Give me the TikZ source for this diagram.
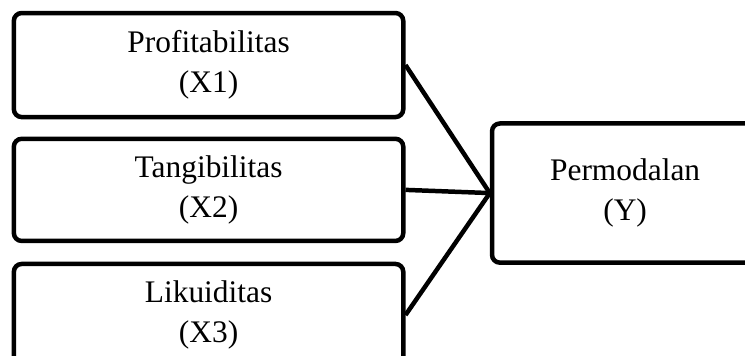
\documentclass[tikz,border=0pt]{standalone}
\usepackage{fontspec}
\setmainfont{Liberation Serif}
\usepackage{tikz}
\usetikzlibrary{positioning}
\tikzset{
  link/.style={line width=2pt, draw=black},
  box/.style={
    draw=black,
    line width=2pt,
    rounded corners=3.5pt,
    fill=white,
    align=center,
    inner sep=2pt,
    font=\fontsize{14pt}{17.8pt}\selectfont
  },
  varbox/.style={box, minimum width=6.10cm, minimum height=1.60cm},
  resultbox/.style={box, minimum width=4.17cm, minimum height=2.18cm}
}

\begin{document}
\begin{tikzpicture}[node distance=0.27cm]
  \useasboundingbox (0,0) rectangle (11.67,-5.563);
  \clip (0,0) rectangle (11.67,-5.563);

  \node[varbox,minimum height=1.63cm] (profit) at (3.267,-1.019) {Profitabilitas\\(X1)};
  \node[varbox,below=of profit] (tangib) {Tangibilitas\\(X2)};
  \node[varbox,below=0.29cm of tangib] (likuid) {Likuiditas\\(X3)};
  \node[resultbox,right=1.32cm of tangib,yshift=-0.05cm] (modal) {Permodalan\\(Y)};

  \foreach \a in {profit,tangib,likuid}
    \draw[link] (\a.east) -- (modal.west);
\end{tikzpicture}
\end{document}
